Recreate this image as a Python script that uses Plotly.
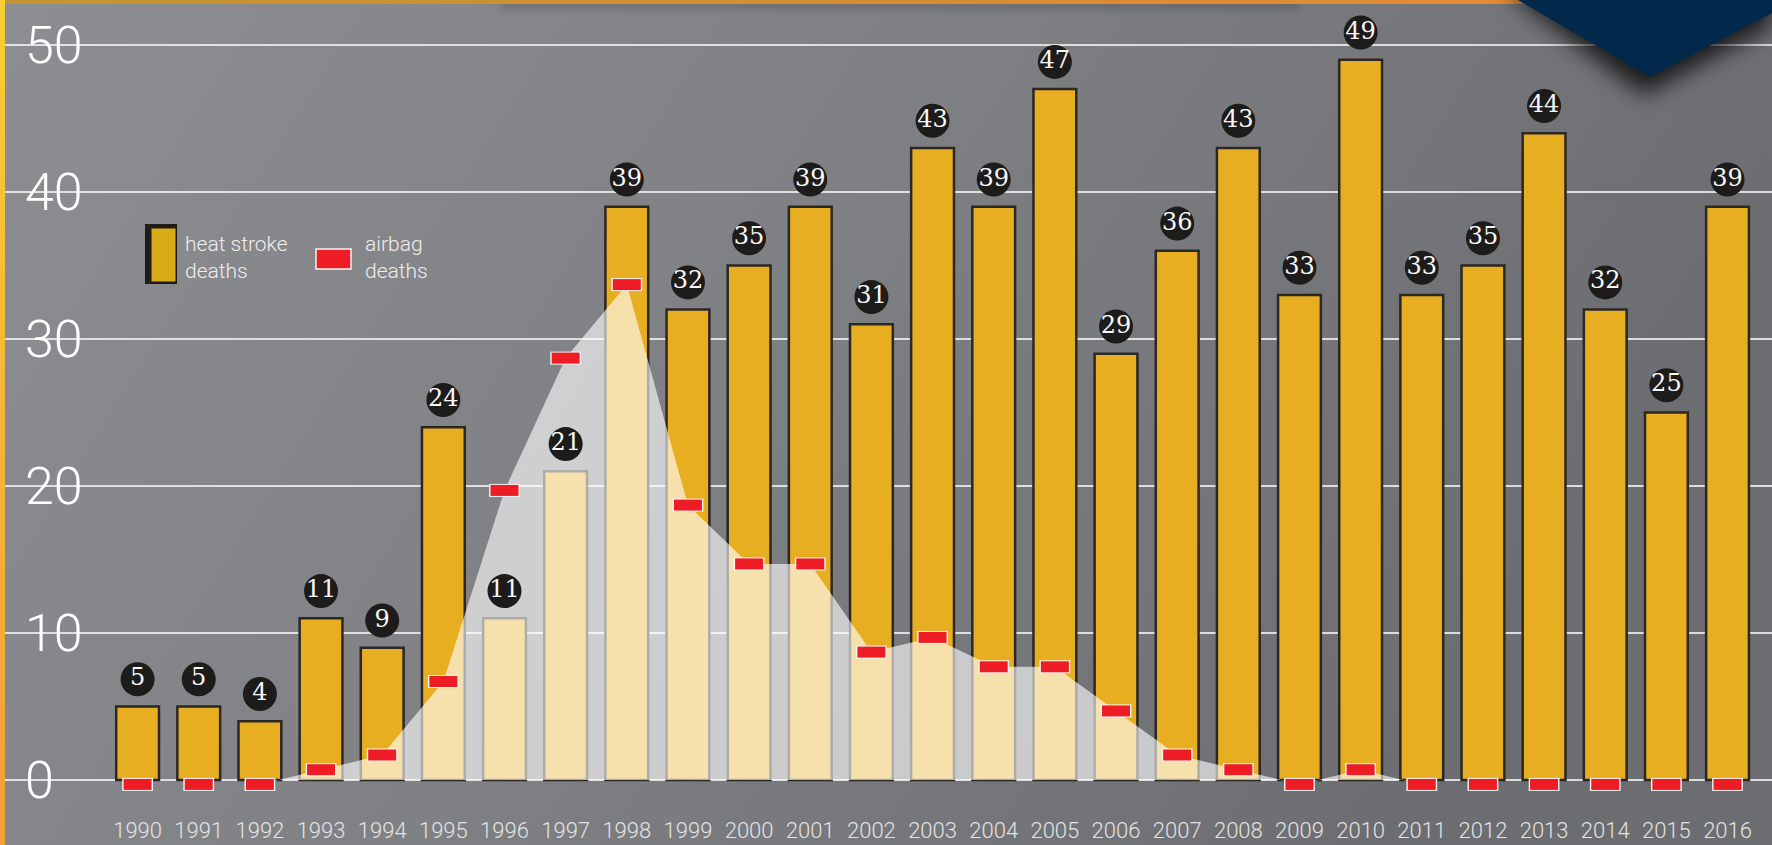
import base64
import plotly.graph_objects as go

# ---- data ----
years = list(range(1990, 2017))
heat_stroke = [5, 5, 4, 11, 9, 24, 11, 21, 39, 32, 35, 39, 31, 43, 39, 47, 29, 36, 43, 33, 49, 33, 35, 44, 32, 25, 39]
airbag = [0, 0, 0, 1, 2, 7, 20, 29, 34, 19, 15, 15, 9, 10, 8, 8, 5, 2, 1, 0, 1, 0, 0, 0, 0, 0, 0]
y_ticks = [0, 10, 20, 30, 40, 50]
legend_labels = ["heat stroke<br>deaths", "airbag<br>deaths"]

# ---- style ----
W, H = 1772, 845
BAR_COLOR = "#e8ae22"
BAR_EDGE = "#2a2724"
RED = "#ee1c25"
LABEL_OFFSET = 1.85     # circle label sits above the bar top
MARK_DY = -0.3          # airbag marker anchor
SANS = "Roboto, Lato, sans-serif"
SERIF = "DejaVu Serif, Liberation Serif, serif"

area_years = years[2:22]
area_vals = [v + MARK_DY for v in airbag[2:22]]
mark_vals = [v + MARK_DY for v in airbag]
label_y = [v + LABEL_OFFSET for v in heat_stroke]


def svg_uri(svg):
    return "data:image/svg+xml;base64," + base64.b64encode(svg.encode()).decode()


bg_svg = f"""<svg xmlns="http://www.w3.org/2000/svg" width="{W}" height="{H}" viewBox="0 0 {W} {H}" preserveAspectRatio="none">
<defs><linearGradient id="g" x1="0" y1="0" x2="1" y2="0.3">
<stop offset="0" stop-color="#8d8e92"/><stop offset="0.5" stop-color="#7f8084"/><stop offset="1" stop-color="#6c6d71"/>
</linearGradient></defs>
<rect width="{W}" height="{H}" fill="url(#g)"/>
</svg>"""

fg_svg = f"""<svg xmlns="http://www.w3.org/2000/svg" width="{W}" height="{H}" viewBox="0 0 {W} {H}" preserveAspectRatio="none">
<defs>
<linearGradient id="ls" x1="0" y1="0" x2="0" y2="1"><stop offset="0" stop-color="#f7cd36"/><stop offset="1" stop-color="#f19f3b"/></linearGradient>
<linearGradient id="ts" x1="0" y1="0" x2="1" y2="0"><stop offset="0" stop-color="#c39433"/><stop offset="0.55" stop-color="#d88b37"/><stop offset="1" stop-color="#ea8b3c"/></linearGradient>
<filter id="b" x="-50%" y="-50%" width="200%" height="200%"><feGaussianBlur stdDeviation="11"/></filter>
<filter id="b2" x="-50%" y="-200%" width="200%" height="500%"><feGaussianBlur stdDeviation="4"/></filter>
</defs>
<rect x="500" y="1" width="800" height="7" fill="#000" opacity="0.22" filter="url(#b2)"/>
<rect x="0" y="0" width="{W}" height="4" fill="url(#ts)"/>
<polygon points="1504,-10 1644,95 1772,26 1772,-10" fill="#000" opacity="0.75" filter="url(#b)"/>
<polygon points="1518,0 1650,77 1772,13 1772,0" fill="#02284b"/>
<rect x="0" y="0" width="5" height="{H}" fill="url(#ls)"/>
</svg>"""

fig = go.Figure()

fig.add_trace(go.Bar(
    x=years, y=heat_stroke, width=0.70,
    marker=dict(color=BAR_COLOR, line=dict(color=BAR_EDGE, width=2.5)),
    hoverinfo="skip", showlegend=False,
))

fig.add_trace(go.Scatter(
    x=area_years, y=area_vals, mode="lines", fill="tozeroy",
    line=dict(width=0, color="rgba(255,255,255,0)"),
    fillcolor="rgba(255,255,255,0.62)", hoverinfo="skip", showlegend=False,
))

fig.add_trace(go.Scatter(
    x=years, y=label_y, mode="markers+text",
    text=[str(v) for v in heat_stroke], textposition="middle center",
    textfont=dict(family=SERIF, size=24, color="#f7f7f7"),
    marker=dict(size=34, color="#1e1b1b", line=dict(width=0)),
    hoverinfo="skip", showlegend=False,
))

fig.add_trace(go.Scatter(
    x=years, y=mark_vals, mode="markers",
    marker=dict(symbol="line-ew", size=22, color="#ffffff", line=dict(width=13, color="#f4f4f4")),
    hoverinfo="skip", showlegend=False,
))
fig.add_trace(go.Scatter(
    x=years, y=mark_vals, mode="markers",
    marker=dict(symbol="line-ew", size=20, color=RED, line=dict(width=11, color=RED)),
    hoverinfo="skip", showlegend=False,
))


def px(x, y):
    return x / W, 1 - y / H


shapes = []
x0, y0 = px(145, 224); x1, y1 = px(177, 284)
shapes.append(dict(type="rect", xref="paper", yref="paper", x0=x0, y0=y0, x1=x1, y1=y1,
                   fillcolor="#1f1c19", line=dict(width=0)))
x0, y0 = px(151, 228); x1, y1 = px(176, 282)
shapes.append(dict(type="rect", xref="paper", yref="paper", x0=x0, y0=y0, x1=x1, y1=y1,
                   fillcolor="#d9ab17", line=dict(width=1, color="#1f1c19")))
x0, y0 = px(316, 249); x1, y1 = px(351, 269)
shapes.append(dict(type="rect", xref="paper", yref="paper", x0=x0, y0=y0, x1=x1, y1=y1,
                   fillcolor=RED, line=dict(width=1.5, color="#f4f4f4")))

annotations = []
for txt, lx in zip(legend_labels, [183, 363]):
    ax, ay = px(lx, 257)
    annotations.append(dict(text=txt, x=ax, y=ay, xref="paper", yref="paper",
                            xanchor="left", yanchor="middle", align="left", showarrow=False,
                            font=dict(family=SANS, size=21, color="#eeeeee", weight=300)))

fig.update_layout(
    width=W, height=H,
    margin=dict(l=0, r=0, t=0, b=0),
    paper_bgcolor="#7e7f83", plot_bgcolor="rgba(0,0,0,0)",
    showlegend=False,
    shapes=shapes, annotations=annotations,
    images=[
        dict(source=svg_uri(bg_svg), xref="paper", yref="paper", x=0, y=1, sizex=1, sizey=1,
             xanchor="left", yanchor="top", sizing="stretch", layer="below"),
        dict(source=svg_uri(fg_svg), xref="paper", yref="paper", x=0, y=1, sizex=1, sizey=1,
             xanchor="left", yanchor="top", sizing="stretch", layer="above"),
    ],
    xaxis=dict(
        range=[1987.75, 2016.727], tickvals=years, ticktext=[str(y) for y in years],
        ticklabelposition="inside", ticklabeloverflow="allow", ticks="", ticklabelstandoff=0,
        tickangle=0,
        showgrid=False, zeroline=False, showline=False,
        tickfont=dict(family=SANS, size=22, color="#e2e2e2", weight=300),
    ),
    yaxis=dict(
        range=[-4.422, 53.061], tickvals=y_ticks,
        ticklabelposition="inside", ticklabeloverflow="allow", ticks="", ticklabelstandoff=22,
        showgrid=True, gridcolor="rgba(240,240,240,0.85)", gridwidth=1.5,
        zeroline=False, showline=False,
        tickfont=dict(family=SANS, size=52, color="#ffffff", weight=300),
    ),
    bargap=0.3,
)

fig.write_html(
    "out.html",
    config={"displayModeBar": False},
    post_script="document.body.style.margin='0';document.body.style.overflow='hidden';",
)
